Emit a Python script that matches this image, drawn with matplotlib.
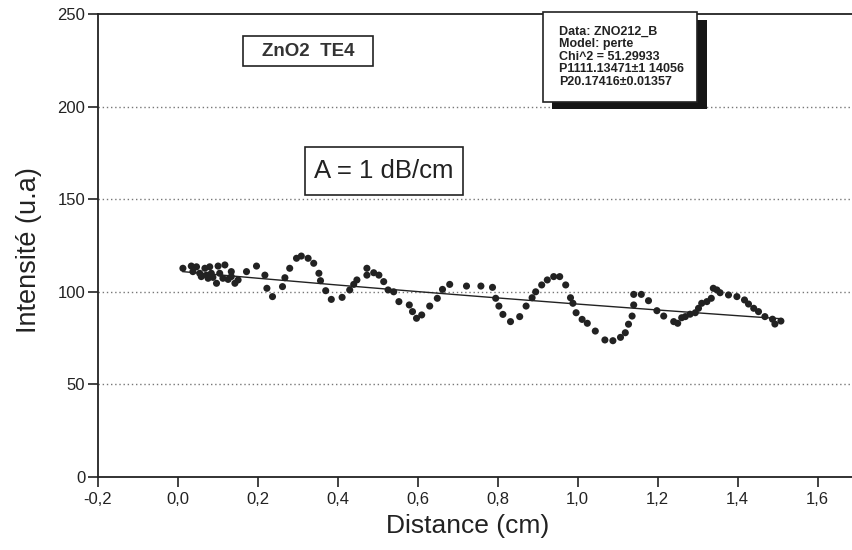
import numpy as np
import matplotlib
matplotlib.use("Agg")
import matplotlib.pyplot as plt
from matplotlib.patches import Rectangle
from matplotlib.ticker import FuncFormatter

plt.rcParams['font.family'] = ['Liberation Sans', 'DejaVu Sans']

# ---- data ----
distance = [0.013, 0.034, 0.038, 0.047, 0.055, 0.059, 0.068, 0.072, 0.076, 0.080,
            0.084, 0.088, 0.097, 0.101, 0.105, 0.113, 0.118, 0.126, 0.134, 0.134,
            0.143, 0.151, 0.172, 0.197, 0.218, 0.223, 0.237, 0.262, 0.268, 0.280,
            0.297, 0.309, 0.326, 0.340, 0.353, 0.357, 0.370, 0.384, 0.411, 0.430,
            0.440, 0.448, 0.473, 0.473, 0.490, 0.503, 0.515, 0.526, 0.540, 0.553,
            0.579, 0.587, 0.597, 0.610, 0.630, 0.649, 0.662, 0.680, 0.722, 0.758,
            0.787, 0.795, 0.803, 0.813, 0.832, 0.855, 0.871, 0.886, 0.895, 0.910,
            0.924, 0.940, 0.955, 0.970, 0.982, 0.988, 0.996, 1.011, 1.024, 1.044,
            1.068, 1.088, 1.107, 1.119, 1.127, 1.136, 1.140, 1.140, 1.159, 1.177,
            1.198, 1.215, 1.240, 1.250, 1.260, 1.269, 1.281, 1.294, 1.302, 1.310,
            1.323, 1.334, 1.339, 1.348, 1.356, 1.377, 1.398, 1.417, 1.427, 1.440,
            1.452, 1.468, 1.487, 1.493, 1.508]
intensity = [112.7, 113.9, 110.9, 113.5, 110.0, 108.2, 112.7, 109.0, 107.3, 113.5,
             110.0, 107.8, 104.6, 113.9, 110.0, 107.3, 114.5, 106.7, 110.9, 108.2,
             104.6, 106.4, 110.9, 113.9, 109.0, 101.9, 97.4, 102.8, 107.6, 112.7,
             118.1, 119.3, 118.1, 115.4, 110.0, 106.0, 100.6, 95.9, 97.0, 101.0,
             104.0, 106.4, 112.7, 109.0, 110.3, 109.0, 105.5, 101.0, 100.0, 94.7,
             92.9, 89.3, 85.7, 87.5, 92.3, 96.5, 101.3, 104.0, 103.1, 103.1,
             102.4, 96.5, 92.3, 87.8, 83.9, 86.6, 92.3, 96.8, 100.0, 103.7,
             106.4, 108.2, 108.2, 103.7, 96.8, 93.8, 88.7, 85.1, 83.0, 78.8,
             74.0, 73.6, 75.4, 77.9, 82.5, 86.9, 92.9, 98.6, 98.6, 95.2,
             89.8, 86.9, 83.9, 83.0, 86.0, 86.6, 87.9, 88.7, 91.1, 93.8,
             94.7, 96.5, 101.9, 101.0, 99.5, 98.3, 97.4, 95.6, 93.4, 91.1,
             89.3, 86.6, 85.2, 82.6, 84.2]

# fit parameters (model "perte": I = P1 * exp(-P2 * x))
P1 = 111.13471
P2 = 0.17416

x_ticks = [-0.2, 0.0, 0.2, 0.4, 0.6, 0.8, 1.0, 1.2, 1.4, 1.6]
y_ticks = [0, 50, 100, 150, 200, 250]

info_lines = ["Data: ZNO212_B", "Model: perte", "Chi^2 = 51.29933",
              "P1111.13471\u00b11 14056", "P20.17416\u00b10.01357"]
label_sample = "ZnO2  TE4"
label_loss = "A = 1 dB/cm"

# ---- figure ----
W, H = 853, 550
fig = plt.figure(figsize=(W / 100, H / 100), dpi=100)
fig.patch.set_facecolor('white')


def fx(px):
    return px / W


def fy(py):
    return 1 - py / H


ax_left, ax_right, ax_top, ax_bot = 97.7, 853, 14, 477
ax = fig.add_axes([fx(ax_left), fy(ax_bot), (ax_right - ax_left) / W, (ax_bot - ax_top) / H])

ax.set_xlim(-0.2, -0.2 + (ax_right - ax_left) / 400.0)
ax.set_ylim(0, 250)

ax.set_xticks(x_ticks)
ax.set_yticks(y_ticks)
ax.xaxis.set_major_formatter(FuncFormatter(lambda v, p: f"{v:.1f}".replace('.', ',').replace('-0,0', '0,0')))
ax.yaxis.set_major_formatter(FuncFormatter(lambda v, p: f"{int(round(v))}"))
ax.tick_params(axis='both', direction='out', length=7, width=1.2, labelsize=12,
               colors='#222222')
ax.tick_params(axis='y', pad=2)
ax.tick_params(axis='x', pad=4)

for s in ['left', 'bottom', 'top']:
    ax.spines[s].set_linewidth(1.3)
    ax.spines[s].set_color('#222222')
ax.spines['right'].set_visible(False)

# dotted horizontal grid
for yv in y_ticks[1:-1]:
    ax.axhline(yv, color='#777777', linestyle=(0, (1, 2)), linewidth=1.0, zorder=0)

# data points
ax.scatter(distance, intensity, s=26, color='#222222', edgecolors='none', zorder=3)

# fit curve
xf = np.linspace(min(distance), max(distance), 200)
ax.plot(xf, P1 * np.exp(-P2 * xf), color='#222222', linewidth=1.0, zorder=2)

ax.set_xlabel("Distance (cm)", fontsize=19, color='#222222')
ax.set_ylabel("Intensité (u.a)", fontsize=19.5, color='#222222')
ax.xaxis.set_label_coords((468 - ax_left) / (ax_right - ax_left), -(514 - ax_bot) / (ax_bot - ax_top))
ax.yaxis.set_label_coords(-(ax_left - 42) / (ax_right - ax_left), (ax_bot - 250) / (ax_bot - ax_top))


def box(x0, y0, x1, y1, face='white', edge='#222222', lw=1.2, z=5):
    r = Rectangle((fx(x0), fy(y1)), (x1 - x0) / W, (y1 - y0) / H,
                  transform=fig.transFigure, facecolor=face, edgecolor=edge,
                  linewidth=lw, zorder=z)
    fig.add_artist(r)


# sample label box
box(243, 36, 373, 66)
fig.text(fx(308), fy(51), label_sample, fontsize=13.5, fontweight='bold', ha='center',
         va='center', color='#333333', zorder=6)

# loss label box
box(305, 147, 463, 195)
fig.text(fx(384), fy(171), label_loss, fontsize=18.5, ha='center', va='center',
         color='#222222', zorder=6)

# info box with shadow
box(552, 20, 707, 109, face='#151515', edge='#151515', lw=0, z=5)
box(543, 12, 697, 102, z=6)
for i, line in enumerate(info_lines):
    fig.text(fx(559), fy(31.7 + i * 12.5), line, fontsize=9, fontweight='bold',
             ha='left', va='center', color='#222222', zorder=7)

fig.savefig("out.png", dpi=100)
